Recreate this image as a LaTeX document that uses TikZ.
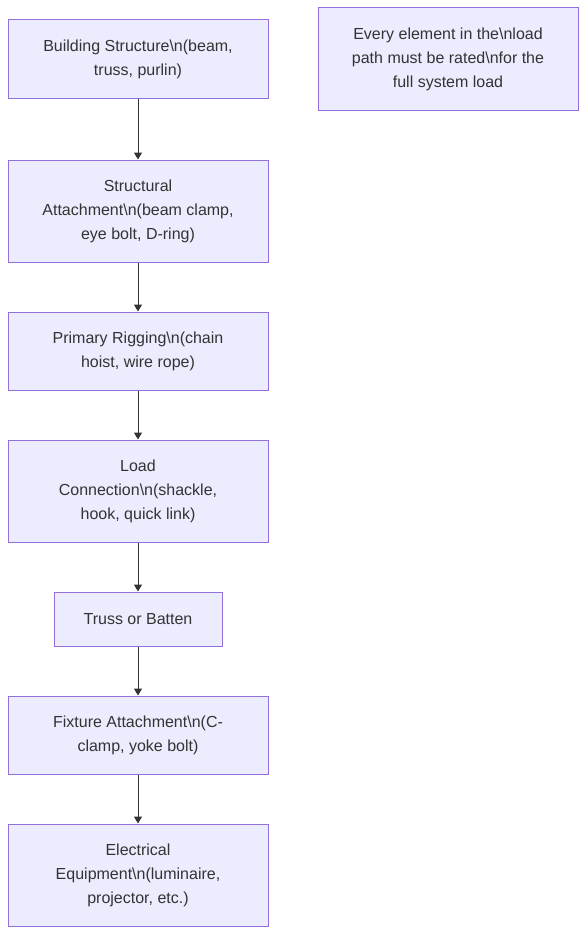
\documentclass[tikz,border=0pt]{standalone}
\usepackage{fontspec}
\setmainfont{Liberation Sans}
\usetikzlibrary{arrows.meta}
\definecolor{nodefill}{HTML}{ECECFF}
\definecolor{nodeline}{HTML}{9370DB}
\definecolor{txt}{HTML}{333333}
\newcommand{\bs}{\textbackslash}
\begin{document}
\begin{tikzpicture}[x=1pt,y=-1pt,
  box/.style={draw=nodeline,fill=nodefill,line width=1pt,rectangle,inner sep=0pt,
    text=txt,align=center,font=\fontsize{16}{24}\selectfont},
  conn/.style={draw=txt,line width=1pt,-{Triangle[length=7pt,width=8pt]}}]
\useasboundingbox (0,0) rectangle (586,934);
\node[box,minimum width=260pt,minimum height=78pt] (a) at (138,59) {Building Structure\bs n(beam,\\truss, purlin)};
\node[box,minimum width=260pt,minimum height=102pt] (b) at (138,211) {Structural\\Attachment\bs n(beam clamp,\\eye bolt, D-ring)};
\node[box,minimum width=260pt,minimum height=78pt] (c) at (138,351) {Primary Rigging\bs n(chain\\hoist, wire rope)};
\node[box,minimum width=260pt,minimum height=102pt] (d) at (138,491) {Load\\Connection\bs n(shackle,\\hook, quick link)};
\node[box,minimum width=168pt,minimum height=54pt] (e) at (138,619) {Truss or Batten};
\node[box,minimum width=260pt,minimum height=78pt] (f) at (138,735) {Fixture Attachment\bs n(C-\\clamp, yoke bolt)};
\node[box,minimum width=260pt,minimum height=102pt] (g) at (138,875) {Electrical\\Equipment\bs n(luminaire,\\projector, etc.)};
\node[box,minimum width=260pt,minimum height=102pt] (n) at (448,59) {Every element in the\bs nload\\path must be rated\bs nfor the\\full system load};
\draw[conn] (a) -- (b);
\draw[conn] (b) -- (c);
\draw[conn] (c) -- (d);
\draw[conn] (d) -- (e);
\draw[conn] (e) -- (f);
\draw[conn] (f) -- (g);
\end{tikzpicture}
\end{document}
